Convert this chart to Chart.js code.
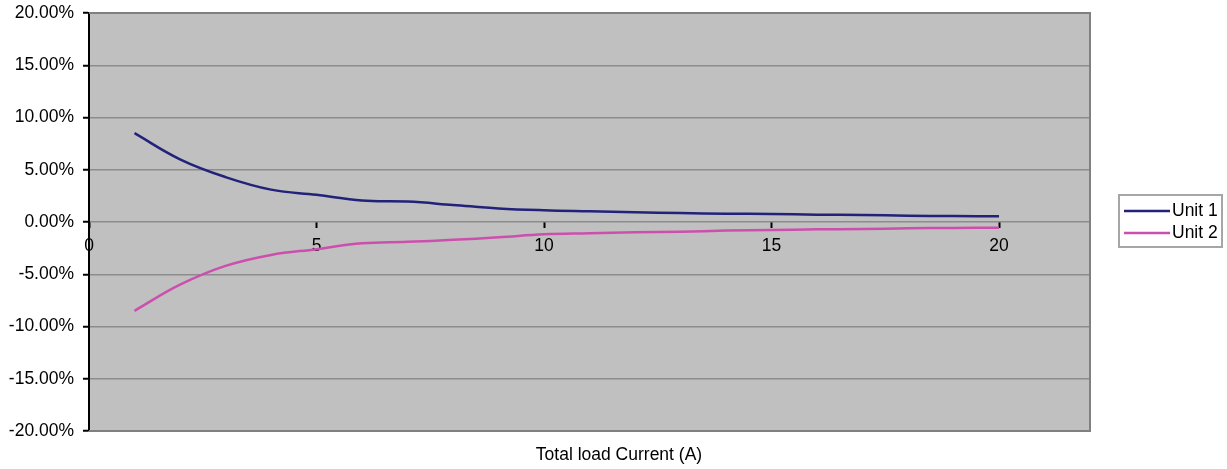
<!DOCTYPE html>
<html>
<head>
<meta charset="utf-8">
<script src="https://cdn.jsdelivr.net/npm/chart.js@4/dist/chart.umd.min.js"></script>
<style>
html,body{margin:0;padding:0;background:#fff;}
#wrap{width:1227px;height:469px;position:relative;}
</style>
</head>
<body>
<div id="wrap"><canvas id="c" width="1227" height="469"></canvas></div>
<script>
const currents = [1,2,3,4,5,6,7,8,9,10,11,12,13,14,15,16,17,18,19,20];
const unit1 = [8.5,6.0,4.3,3.1,2.6,2.05,1.95,1.63,1.3,1.12,1.02,0.93,0.86,0.79,0.77,0.7,0.67,0.6,0.57,0.54];
const unit2 = [-8.5,-6.0,-4.2,-3.15,-2.6,-2.04,-1.9,-1.7,-1.47,-1.18,-1.08,-0.99,-0.93,-0.82,-0.77,-0.7,-0.67,-0.6,-0.57,-0.54];
const seriesNames = ['Unit 1','Unit 2'];
const xTicks = [0,5,10,15,20];
const xTitle = 'Total load Current (A)';

const FONT = '"Liberation Sans", Arial, sans-serif';
const FS = 17.5;

const decor = {
  id:'decor',
  beforeDraw(chart){
    const {ctx, chartArea:a} = chart;
    ctx.save();
    ctx.fillStyle = '#c0c0c0';
    ctx.fillRect(a.left, a.top, a.right-a.left, a.bottom-a.top);
    ctx.restore();
  },
  afterDraw(chart){
    const {ctx, chartArea:a} = chart;
    ctx.save();
    ctx.strokeStyle = '#808080';
    ctx.lineWidth = 2;
    ctx.beginPath();
    ctx.moveTo(a.left, a.top); ctx.lineTo(a.right, a.top); ctx.lineTo(a.right, a.bottom); ctx.lineTo(a.left, a.bottom);
    ctx.stroke();
    // axis title
    ctx.fillStyle = '#000';
    ctx.font = FS + 'px ' + FONT;
    ctx.textAlign = 'center';
    ctx.textBaseline = 'middle';
    ctx.fillText(xTitle, 619, 455);
    // legend
    ctx.strokeStyle = '#a6a6a6';
    ctx.lineWidth = 2;
    ctx.strokeRect(1119, 195, 103, 52);
    chart.data.datasets.forEach((ds, i) => {
      const y = 211 + i*22;
      ctx.strokeStyle = ds.borderColor;
      ctx.lineWidth = 2.5;
      ctx.beginPath(); ctx.moveTo(1124, y); ctx.lineTo(1170, y); ctx.stroke();
      ctx.fillStyle = '#000';
      ctx.textAlign = 'left';
      ctx.fillText(ds.label, 1172, y);
    });
    ctx.restore();
  }
};

new Chart(document.getElementById('c'), {
  type:'line',
  data:{
    datasets:[
      {label:seriesNames[0], data:currents.map((x,i)=>({x, y:unit1[i]})), borderColor:'#22227a', borderWidth:2.5, pointRadius:0, tension:0.4, fill:false},
      {label:seriesNames[1], data:currents.map((x,i)=>({x, y:unit2[i]})), borderColor:'#cc4fae', borderWidth:2.5, pointRadius:0, tension:0.4, fill:false}
    ]
  },
  options:{
    responsive:false,
    animation:false,
    events:[],
    layout:{padding:{left:0, right:137, top:13, bottom:38}},
    plugins:{legend:{display:false}, tooltip:{enabled:false}, title:{display:false}},
    scales:{
      x:{
        type:'linear', min:0, max:22,
        position:{y:0},
        afterBuildTicks(s){ s.ticks = xTicks.map(v=>({value:v})); },
        afterFit(s){ s.paddingLeft = 0; s.paddingRight = 0; },
        grid:{drawOnChartArea:false, drawTicks:true, tickLength:6, tickColor:'#000', tickWidth:2},
        border:{display:false},
        ticks:{color:'#000', font:{family:FONT, size:FS}, padding:8, maxRotation:0}
      },
      y:{
        min:-20, max:20,
        afterFit(s){ s.width = 89; s.paddingTop = 0; s.paddingBottom = 0; },
        grid:{color:'#8c8c8c', lineWidth:1.5, tickColor:'#000', tickLength:6, tickWidth:2},
        border:{color:'#000', width:2},
        ticks:{stepSize:5, color:'#000', font:{family:FONT, size:FS}, padding:9,
          callback:v=>v.toFixed(2)+'%'}
      }
    }
  },
  plugins:[decor]
});
</script>
</body>
</html>
